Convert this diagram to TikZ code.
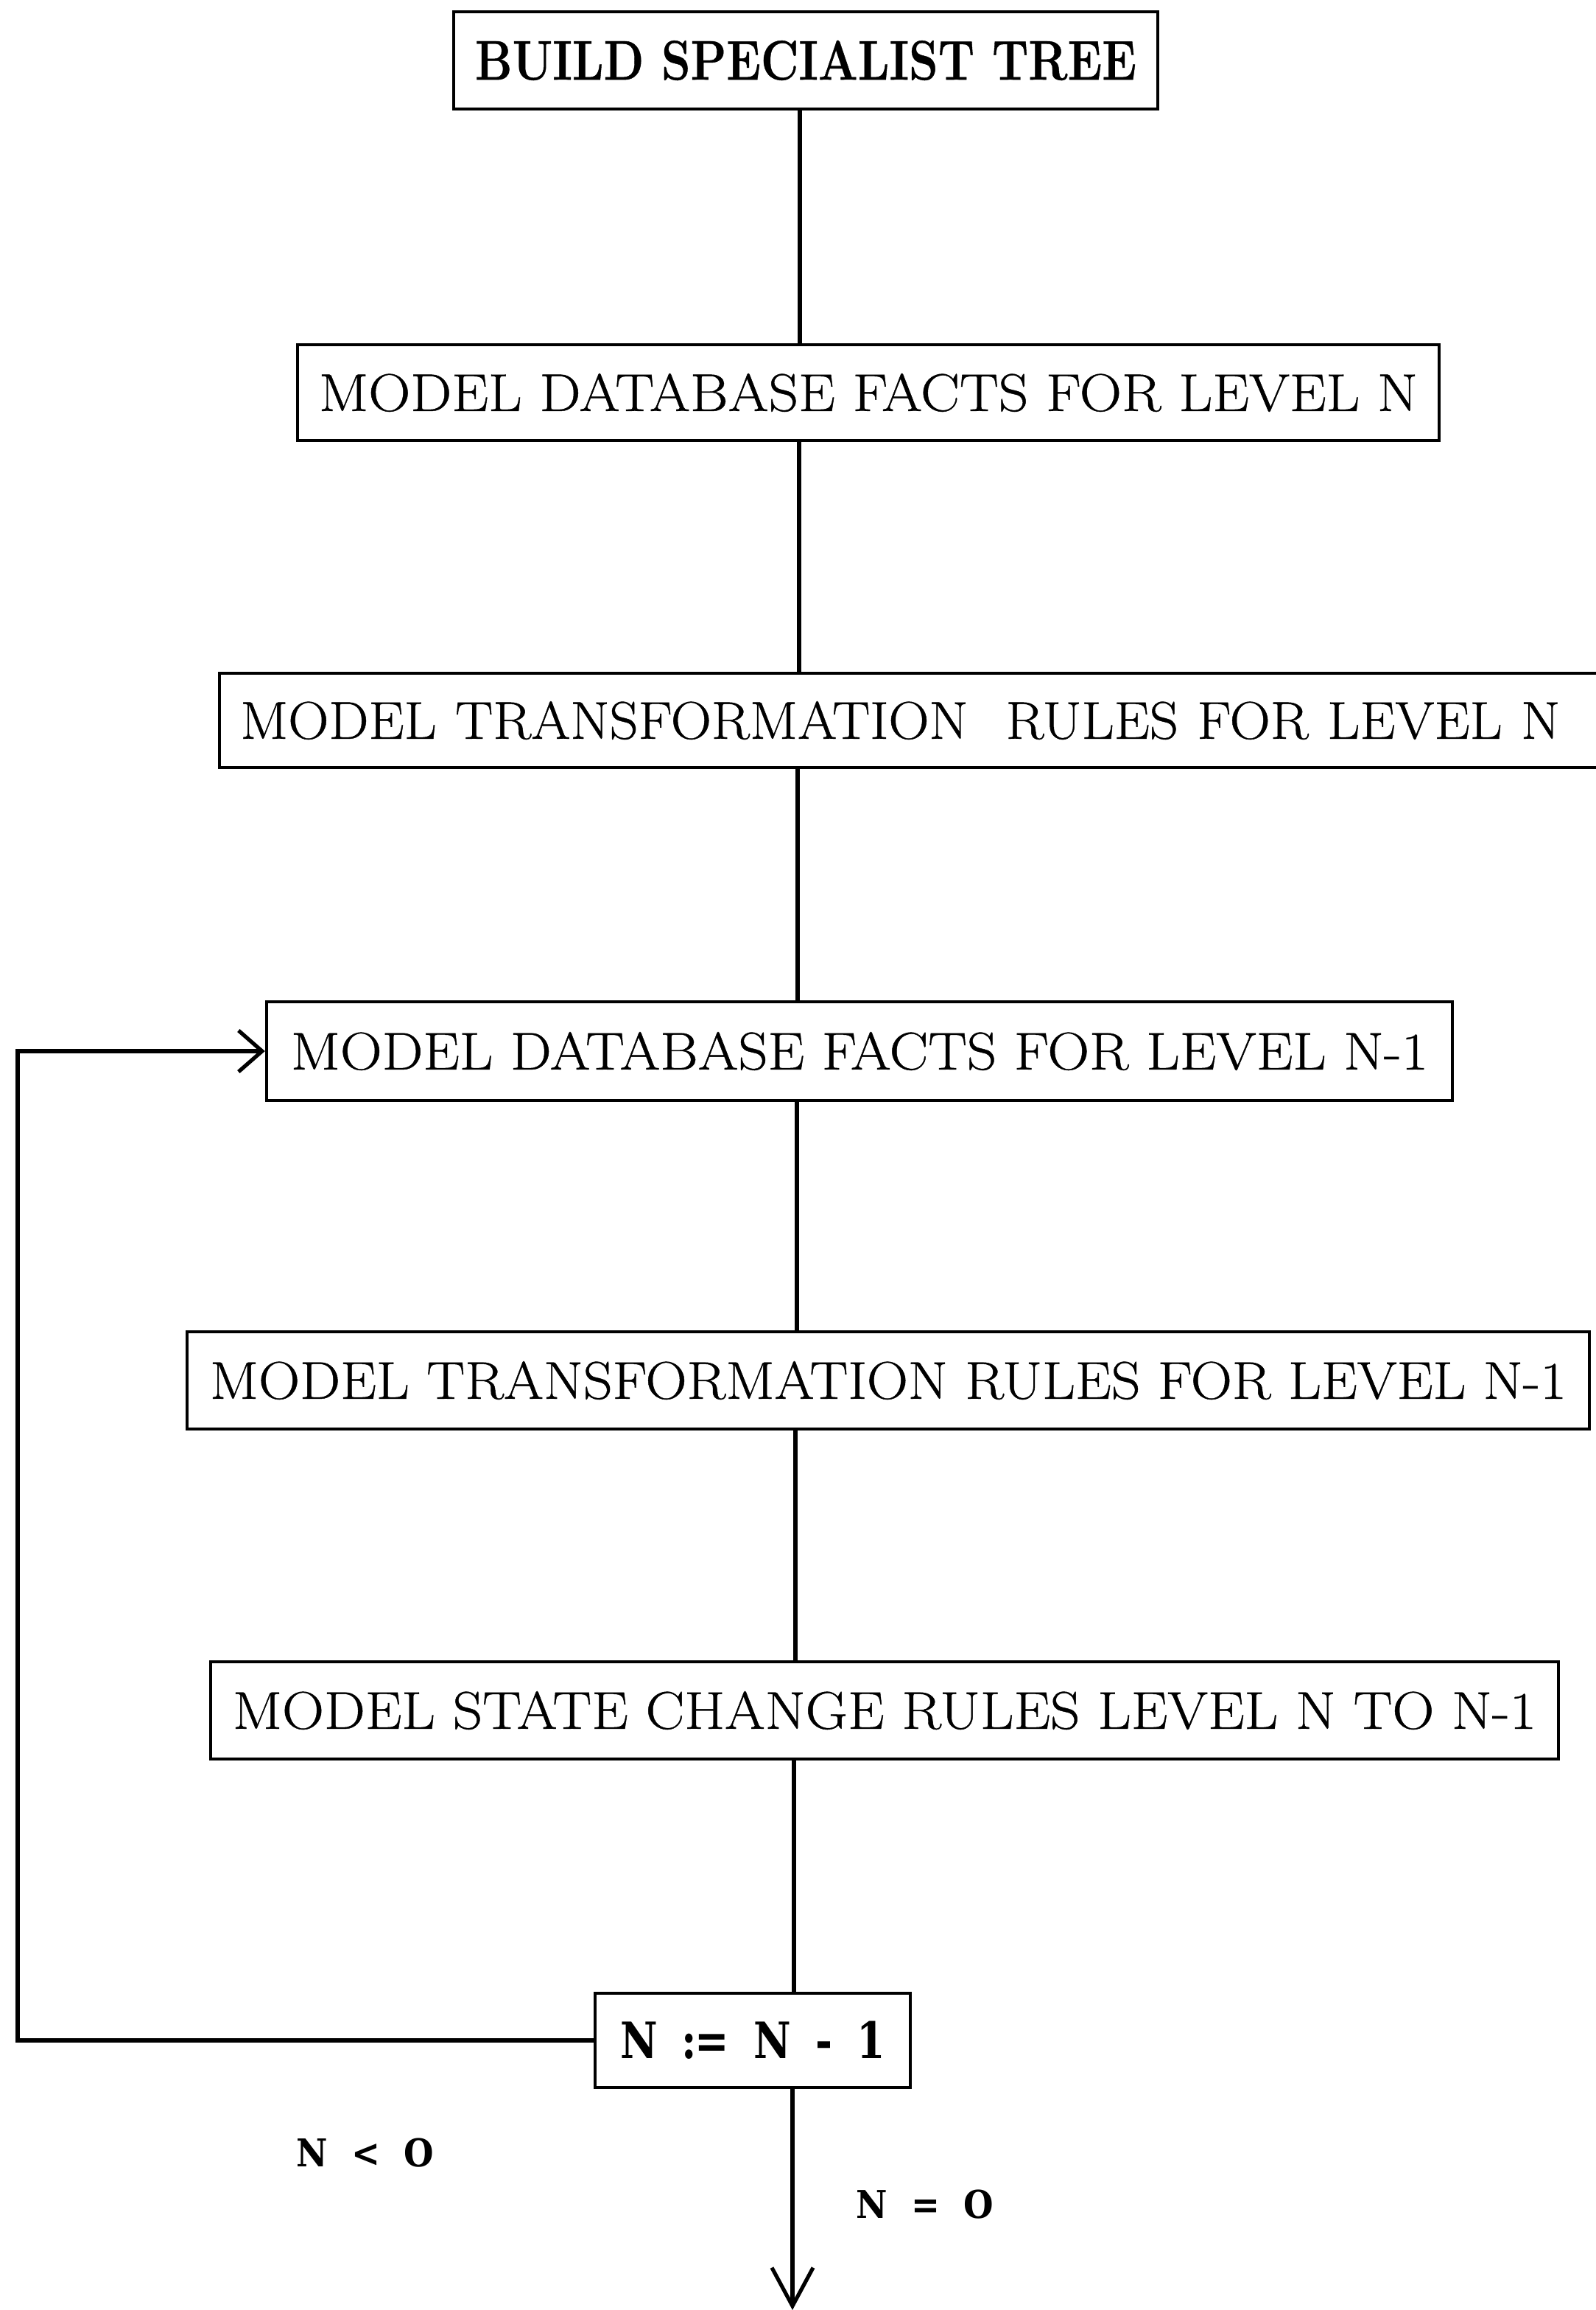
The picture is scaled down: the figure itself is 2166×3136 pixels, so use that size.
\documentclass[tikz,border=0pt]{standalone}
\usepackage{fontspec}
\usepackage{graphicx}
\usetikzlibrary{arrows.meta}
\newfontfamily\boxfont{Latin Modern Roman}[FakeBold=0.6]
\newfontfamily\heavyfont{DejaVu Serif}
\newcommand\fitw[2]{\resizebox{#1}{\height}{#2}}
\begin{document}
\begin{tikzpicture}[x=0.25pt,y=-0.25pt,
  box/.style={draw, line width=1.1pt, inner sep=0pt, font=\boxfont\fontsize{18}{20}\selectfont},
  flow/.style={line width=1.3pt},
  tip/.style={-{Straight Barb[length=#1, width=14pt, line width=1.3pt]}},
  lbl/.style={font=\heavyfont\bfseries\fontsize{13}{15}\selectfont, inner sep=0pt}
]
\useasboundingbox (0,0) rectangle (2166,3136);

\node[box, minimum width=239pt, minimum height=33pt] (b1) at (1094,82)
  {\fitw{224.5pt}{\bfseries\fontsize{19}{21}\selectfont BUILD SPECIALIST TREE}};
\node[box, minimum width=387.5pt, minimum height=32.5pt] (b2) at (1179,533)
  {\fitw{373pt}{MODEL DATABASE FACTS FOR LEVEL N}};
\node[box, anchor=west, minimum height=32pt, inner xsep=7pt, text width=474.5pt, align=left] (b3) at (296,978)
  {\fitw{448pt}{MODEL TRANSFORMATION\ \ RULES FOR LEVEL N}};
\node[box, minimum width=402.5pt, minimum height=33.5pt] (b4) at (1167,1427)
  {\fitw{386pt}{MODEL DATABASE FACTS FOR LEVEL N-1}};
\node[box, minimum width=476pt, minimum height=33pt] (b5) at (1206,1874)
  {\fitw{460.5pt}{MODEL TRANSFORMATION RULES FOR LEVEL N-1}};
\node[box, minimum width=457.5pt, minimum height=33pt] (b6) at (1201,2322)
  {\fitw{442.5pt}{MODEL STATE CHANGE RULES LEVEL N TO N-1}};
\node[box, minimum width=107pt, minimum height=32pt] (b7) at (1022,2770)
  {\fitw{90pt}{\heavyfont\bfseries\fontsize{17}{20}\selectfont N\hspace{0.6em}:\kern-0.05em=\hspace{0.6em}N\hspace{0.6em}-\hspace{0.6em}1}};

\coordinate (s1) at (1086,0);
\coordinate (s2) at (1085,0);
\coordinate (s3) at (1083,0);
\coordinate (s4) at (1082,0);
\coordinate (s5) at (1080,0);
\coordinate (s6) at (1078,0);
\coordinate (s7) at (1076,0);
\coordinate (loopx) at (24,2000);
\coordinate (endpt) at (1076,3136);

\draw[flow] (b1.south -| s1) -- (b2.north -| s1);
\draw[flow] (b2.south -| s2) -- (b3.north -| s2);
\draw[flow] (b3.south -| s3) -- (b4.north -| s3);
\draw[flow] (b4.south -| s4) -- (b5.north -| s4);
\draw[flow] (b5.south -| s5) -- (b6.north -| s5);
\draw[flow] (b6.south -| s6) -- (b7.north -| s6);
\draw[flow, tip=8pt] (b7.west) -| (loopx) |- (b4.west);
\draw[flow, tip=13pt] (b7.south -| s7) -- (endpt);

\node[lbl] (l1) at (496,2923) {\fitw{46.75pt}{N\hspace{0.7em}<\hspace{0.7em}O}};
\node[lbl] (l2) at (1256,2993) {\fitw{46.75pt}{N\hspace{0.7em}=\hspace{0.7em}O}};
\end{tikzpicture}
\end{document}
